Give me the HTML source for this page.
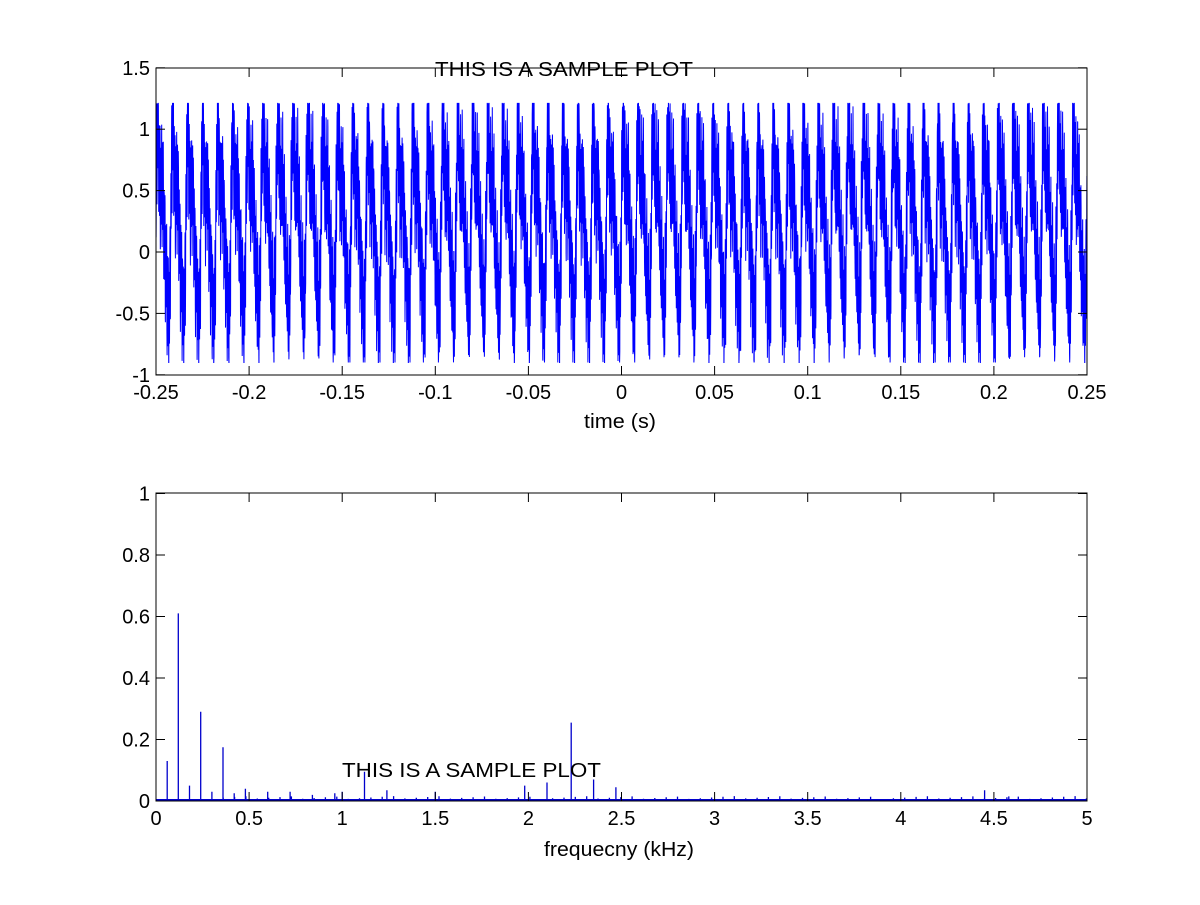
<!DOCTYPE html>
<html><head><style>
body{margin:0;background:#fff;}
svg text{font-family:"Liberation Sans",Arial,sans-serif;font-size:20px;fill:#000;}
</style></head><body>
<svg id="s" width="1200" height="900" xmlns="http://www.w3.org/2000/svg">
<rect width="1200" height="900" fill="#fff"/>
<g id="gtop"></g><g id="gbot"></g>
<text x="435" y="76" textLength="258" lengthAdjust="spacingAndGlyphs">THIS IS A SAMPLE PLOT</text>
<text x="584" y="428" textLength="72" lengthAdjust="spacingAndGlyphs">time (s)</text>
<text x="342" y="777" textLength="259" lengthAdjust="spacingAndGlyphs">THIS IS A SAMPLE PLOT</text>
<text x="544" y="856" textLength="150" lengthAdjust="spacingAndGlyphs">frequecny (kHz)</text>
</svg>
<script>
(function(){
const NS="http://www.w3.org/2000/svg";
function el(p,t,a){const e=document.createElementNS(NS,t);for(const k in a)e.setAttribute(k,a[k]);p.appendChild(e);return e;}
const L=156,R=1087;
let xtLabels,ytLabels;
function axes(g,T,B,xt,xl,yt,yl){
 el(g,"rect",{x:L,y:T,width:R-L,height:B-T,fill:"none",stroke:"#000","stroke-width":1});
 xt.forEach((v,i)=>{const x=xl(v);el(g,"line",{x1:x,x2:x,y1:B,y2:B-9,stroke:"#000"});el(g,"line",{x1:x,x2:x,y1:T,y2:T+9,stroke:"#000"});
  const t=el(g,"text",{x:x,y:B+24,"text-anchor":"middle"});t.textContent=xtLabels[i];});
 yt.forEach((v,i)=>{const y=yl(v);el(g,"line",{x1:L,x2:L+9,y1:y,y2:y,stroke:"#000"});el(g,"line",{x1:R,x2:R-9,y1:y,y2:y,stroke:"#000"});
  const t=el(g,"text",{x:L-6,y:y+7,"text-anchor":"end"});t.textContent=ytLabels[i];});
}
const gTop=document.getElementById("gtop");
const tx=t=>L+(t+0.25)/0.5*(R-L), ty=v=>252-v*122.8;
let pts=[];const N=8000;
for(let i=0;i<=N;i++){const t=-0.25+0.5*i/N;const w=2*Math.PI*124*t;
 let s=0.25+0.6*Math.sin(w)+0.25*Math.sin(2*w+0.5)+0.15*Math.sin(3*w)+0.4*Math.sin(2*Math.PI*2230*t)+0.15*Math.sin(2*Math.PI*1120*t)+0.08*Math.sin(2*Math.PI*4450*t);
 if(s>1.21)s=1.21; if(s<-0.9)s=-0.9;
 pts.push(tx(t).toFixed(1)+","+ty(s).toFixed(1));}
el(gTop,"polyline",{points:pts.join(" "),fill:"none",stroke:"#0000ff","stroke-width":1});
xtLabels=["-0.25","-0.2","-0.15","-0.1","-0.05","0","0.05","0.1","0.15","0.2","0.25"];
ytLabels=["-1","-0.5","0","0.5","1","1.5"];
axes(gTop,68,375,[-0.25,-0.2,-0.15,-0.1,-0.05,0,0.05,0.1,0.15,0.2,0.25],tx,[-1,-0.5,0,0.5,1,1.5],ty);
const gBot=document.getElementById("gbot");
const fx=f=>L+f/5*(R-L), fy=v=>801-v*307.5;
const peaks=[[0.06,0.13],[0.12,0.61],[0.18,0.05],[0.24,0.29],[0.30,0.03],[0.36,0.175],[0.42,0.025],[0.48,0.04],[0.6,0.03],[0.72,0.03],[0.84,0.02],[0.96,0.025],[1.0,0.03],[1.12,0.095],[1.24,0.035],[1.5,0.03],[1.98,0.05],[2.1,0.06],[2.23,0.255],[2.35,0.07],[2.47,0.045],[4.45,0.035],[4.58,0.015]];
let d="";
peaks.forEach(p=>{d+=`M${fx(p[0]).toFixed(1)},801V${fy(p[1]).toFixed(1)}`;});
let k=0;
for(let f=0.3;f<5;f+=0.061){k++;d+=`M${fx(f).toFixed(1)},801v-${(2+(k*37%30)/10).toFixed(1)}`;}
el(gBot,"path",{d:d,stroke:"#0000cc","stroke-width":1.3,fill:"none"});
el(gBot,"line",{x1:L,x2:R,y1:800,y2:800,stroke:"#0000cc","stroke-width":2});
xtLabels=["0","0.5","1","1.5","2","2.5","3","3.5","4","4.5","5"];
ytLabels=["0","0.2","0.4","0.6","0.8","1"];
axes(gBot,493,801,[0,0.5,1,1.5,2,2.5,3,3.5,4,4.5,5],fx,[0,0.2,0.4,0.6,0.8,1],fy);
})();
</script>
</body></html>
